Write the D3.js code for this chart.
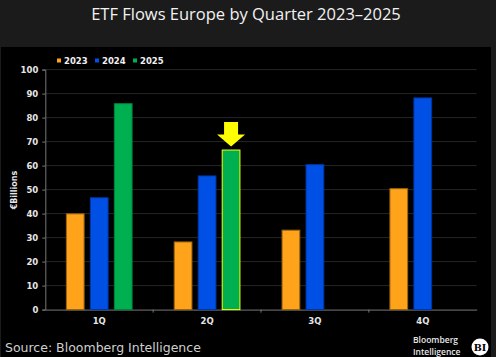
<!DOCTYPE html>
<html><head><meta charset="utf-8">
<script src="https://cdn.jsdelivr.net/npm/d3@7"></script>
<style>
html,body{margin:0;padding:0;background:#1b1b1b;}
svg{display:block;}
</style></head>
<body>
<svg id="c" width="496" height="357"></svg>
<script>
const quarters = ["1Q","2Q","3Q","4Q"];
const years = ["2023","2024","2025"];
const flows2023 = [40.1, 28.4, 33.3, 50.6];
const flows2024 = [46.8, 55.9, 60.6, 88.4];
const flows2025 = [86.0, 66.7, null, null];
const yTicks = [0,10,20,30,40,50,60,70,80,90,100];
const title = "ETF Flows Europe by Quarter 2023–2025";
const yTitle = "€Billions";
const source = "Source: Bloomberg Intelligence";
const logoLines = ["Bloomberg","Intelligence"];
const highlight = {quarter:"2Q", year:"2025"};

const colors = {"2023":"#FFA31A","2024":"#0050E6","2025":"#00B050"};
const strokes = {"2023":"#9a6410","2024":"#0038a8","2025":"#00843c"};

const seriesByYear = {"2023":flows2023,"2024":flows2024,"2025":flows2025};
const data = [];
quarters.forEach((q,i)=>years.forEach(y=>{
  const v = seriesByYear[y][i];
  if(v!=null) data.push({q, y, v});
}));

const svg = d3.select("#c");
svg.append("rect").attr("x",0).attr("y",0).attr("width",496).attr("height",357).attr("fill","#1b1b1b");
svg.append("rect").attr("x",1).attr("y",47).attr("width",490).attr("height",310).attr("fill","#000");

svg.append("text").attr("x",246).attr("y",20).attr("text-anchor","middle")
  .attr("fill","#f2f2f2").style("font-family","'Open Sans', 'Noto Sans', sans-serif")
  .style("font-size","16.5px").text(title);

const x = d3.scaleBand().domain(quarters).range([45.3, 476.7]).padding(0);
const xs = d3.scaleBand().domain(years).range([0, x.bandwidth()]).paddingInner(0.22).paddingOuter(0.857);
const y = d3.scaleLinear().domain([0,100]).range([309.6, 69.6]);

// gridlines
svg.append("g").selectAll("line").data(yTicks.filter(t=>t>0)).join("line")
  .attr("x1",45.3).attr("x2",476.7).attr("y1",d=>y(d)).attr("y2",d=>y(d))
  .attr("stroke","#262626").attr("stroke-width",1);

// y axis
const ya = svg.append("g").attr("transform","translate(45.3,0)")
  .call(d3.axisLeft(y).tickValues(yTicks).tickSize(3).tickPadding(4));
ya.select(".domain").attr("stroke","#777");
ya.selectAll(".tick line").attr("stroke","#777");
ya.selectAll("text").attr("fill","#e6e6e6").style("font-family","'DejaVu Sans', sans-serif")
  .style("font-size","8.5px").style("font-weight","bold");

// x axis
const xa = svg.append("g").attr("transform",`translate(0,${y(0)})`)
  .call(d3.axisBottom(x).tickSize(0).tickPadding(8));
xa.select(".domain").attr("stroke","#777");
xa.selectAll("text").attr("fill","#e6e6e6").style("font-family","'DejaVu Sans', sans-serif")
  .style("font-size","8.5px").style("font-weight","bold");
// boundary ticks
svg.append("g").selectAll("line").data(quarters.slice(1)).join("line")
  .attr("x1",d=>x(d)).attr("x2",d=>x(d)).attr("y1",y(0)).attr("y2",y(0)+3)
  .attr("stroke","#777");

// bars
svg.append("g").selectAll("rect").data(data).join("rect")
  .attr("x",d=>x(d.q)+xs(d.y)+0.5)
  .attr("y",d=>y(d.v)+0.5)
  .attr("width",xs.bandwidth()-1)
  .attr("height",d=>y(0)-y(d.v)-0.5)
  .attr("fill",d=>colors[d.y])
  .attr("stroke",d=>(d.q===highlight.quarter&&d.y===highlight.year)?"#FFFF00":strokes[d.y])
  .attr("stroke-width",1);

// arrow annotation
const hv = data.find(d=>d.q===highlight.quarter&&d.y===highlight.year);
const ax = x(hv.q)+xs(hv.y)+xs.bandwidth()/2;
const tipY = y(hv.v)-3;
const arrow = d3.path();
arrow.moveTo(ax-7, tipY-24.5);
arrow.lineTo(ax+7, tipY-24.5);
arrow.lineTo(ax+7, tipY-12);
arrow.lineTo(ax+14, tipY-12);
arrow.lineTo(ax, tipY);
arrow.lineTo(ax-14, tipY-12);
arrow.lineTo(ax-7, tipY-12);
arrow.closePath();
svg.append("path").attr("d",arrow.toString()).attr("fill","#FFFF00");

// y title
svg.append("text").attr("transform","translate(17,190) rotate(-90)").attr("text-anchor","middle")
  .attr("fill","#e6e6e6").style("font-family","'DejaVu Sans', sans-serif")
  .style("font-size","8px").style("font-weight","bold").text(yTitle);

// legend
const lg = svg.append("g");
const legX = [57, 95, 133];
years.forEach((yr,i)=>{
  lg.append("rect").attr("x",legX[i]).attr("y",58.5).attr("width",4).attr("height",4).attr("fill",colors[yr]);
  lg.append("text").attr("x",legX[i]+7).attr("y",63.5).attr("fill","#f0f0f0")
    .style("font-family","'DejaVu Sans', sans-serif").style("font-size","8.5px").style("font-weight","bold").text(yr);
});

// source
svg.append("text").attr("x",5).attr("y",352).attr("fill","#cfcfcf")
  .style("font-family","'DejaVu Sans', sans-serif").style("font-size","12.5px").text(source);

// logo
logoLines.forEach((t,i)=>svg.append("text").attr("x",413).attr("y",343.3 + i*11.8).attr("fill","#e8e8e8")
  .style("font-family","'Open Sans', sans-serif").style("font-size","8.5px").style("font-weight","600").text(t));
svg.append("circle").attr("cx",480).attr("cy",347).attr("r",8.5).attr("fill","#fff");
svg.append("text").attr("x",480).attr("y",350.5).attr("text-anchor","middle").attr("fill","#000")
  .style("font-family","'DejaVu Serif', serif").style("font-size","9.5px").style("font-weight","bold").text("BI");
</script>
</body></html>
